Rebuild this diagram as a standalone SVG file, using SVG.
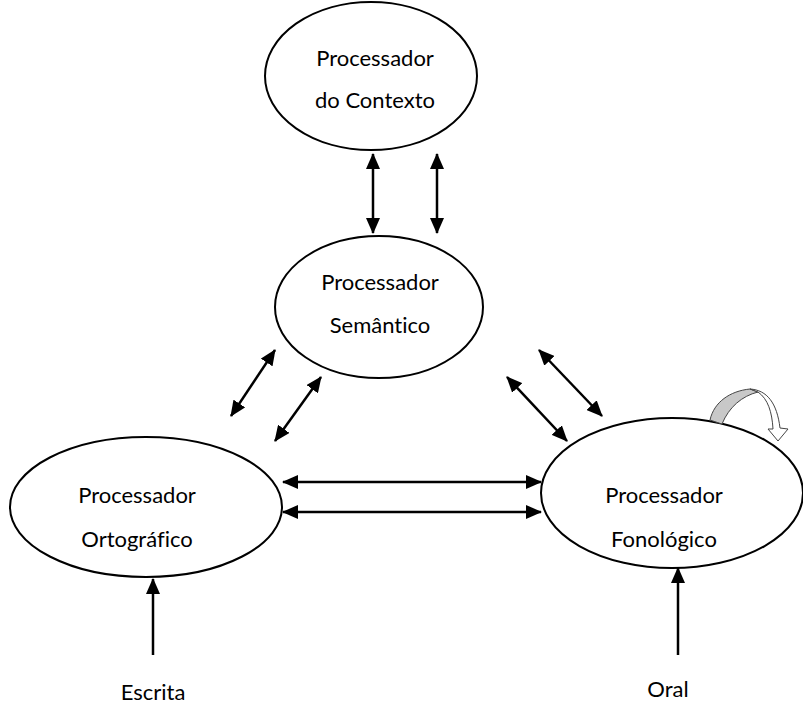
<svg xmlns="http://www.w3.org/2000/svg" width="803" height="712" viewBox="0 0 803 712">
<style>
.node ellipse{fill:#fff;stroke:#000;stroke-width:2}
text{font-family:Lato,"Liberation Sans",sans-serif;font-size:22px;fill:#000;text-anchor:middle;font-variant-ligatures:none;font-feature-settings:"liga" 0,"clig" 0}
.c line{stroke:#000;stroke-width:2.5}
</style>
<defs>
<marker id="ah" viewBox="0 0 16 14" refX="15" refY="7" markerWidth="16" markerHeight="14" markerUnits="userSpaceOnUse" orient="auto-start-reverse">
<path d="M0,0 L16,7 L0,14 Z" fill="#000"/>
</marker>
</defs>
<rect width="803" height="712" fill="#fff"/>
<g id="contexto" class="node">
<ellipse cx="371" cy="76" rx="106" ry="74"/>
<text x="375" y="66">Processador</text>
<text x="375" y="108">do Contexto</text>
</g>
<g id="semantico" class="node">
<ellipse cx="379" cy="307" rx="104" ry="71"/>
<text x="380" y="290">Processador</text>
<text x="380" y="333">Semântico</text>
</g>
<g id="ortografico" class="node">
<ellipse cx="146" cy="507" rx="136" ry="70"/>
<text x="137" y="503">Processador</text>
<text x="137" y="547">Ortográfico</text>
</g>
<g id="fonologico" class="node">
<ellipse cx="672" cy="493" rx="131" ry="75"/>
<text x="664" y="503">Processador</text>
<text x="664" y="547">Fonológico</text>
</g>
<g id="escrita">
<text x="153" y="700">Escrita</text>
</g>
<g id="oral">
<text x="668" y="697">Oral</text>
</g>
<g id="loop">
<path d="M710,420 C714,402 730,391 750,389 L758,392 C742,396 729,407 722,424 Z" fill="#c8c8c8" stroke="#444" stroke-width="1"/>
<path d="M750,389 C767,390 777,403 780,428 L788,429 L778,441 L768,429 L773,429 C772,412 768,399 758,392 Z" fill="#fff" stroke="#444" stroke-width="1"/>
</g>
<g id="connectors" class="c">
<line x1="373" y1="154" x2="373" y2="233" marker-start="url(#ah)" marker-end="url(#ah)"/>
<line x1="437" y1="154" x2="437" y2="233" marker-start="url(#ah)" marker-end="url(#ah)"/>
<line x1="275" y1="350" x2="231" y2="416" marker-start="url(#ah)" marker-end="url(#ah)"/>
<line x1="321" y1="377" x2="275" y2="441" marker-start="url(#ah)" marker-end="url(#ah)"/>
<line x1="539" y1="350" x2="602" y2="416" marker-start="url(#ah)" marker-end="url(#ah)"/>
<line x1="507" y1="377" x2="567" y2="441" marker-start="url(#ah)" marker-end="url(#ah)"/>
<line x1="283" y1="482" x2="541" y2="482" marker-start="url(#ah)" marker-end="url(#ah)"/>
<line x1="283" y1="512" x2="541" y2="512" marker-start="url(#ah)" marker-end="url(#ah)"/>
<line x1="153" y1="655" x2="153" y2="579" marker-end="url(#ah)"/>
<line x1="678" y1="655" x2="678" y2="568" marker-end="url(#ah)"/>
</g>
</svg>
